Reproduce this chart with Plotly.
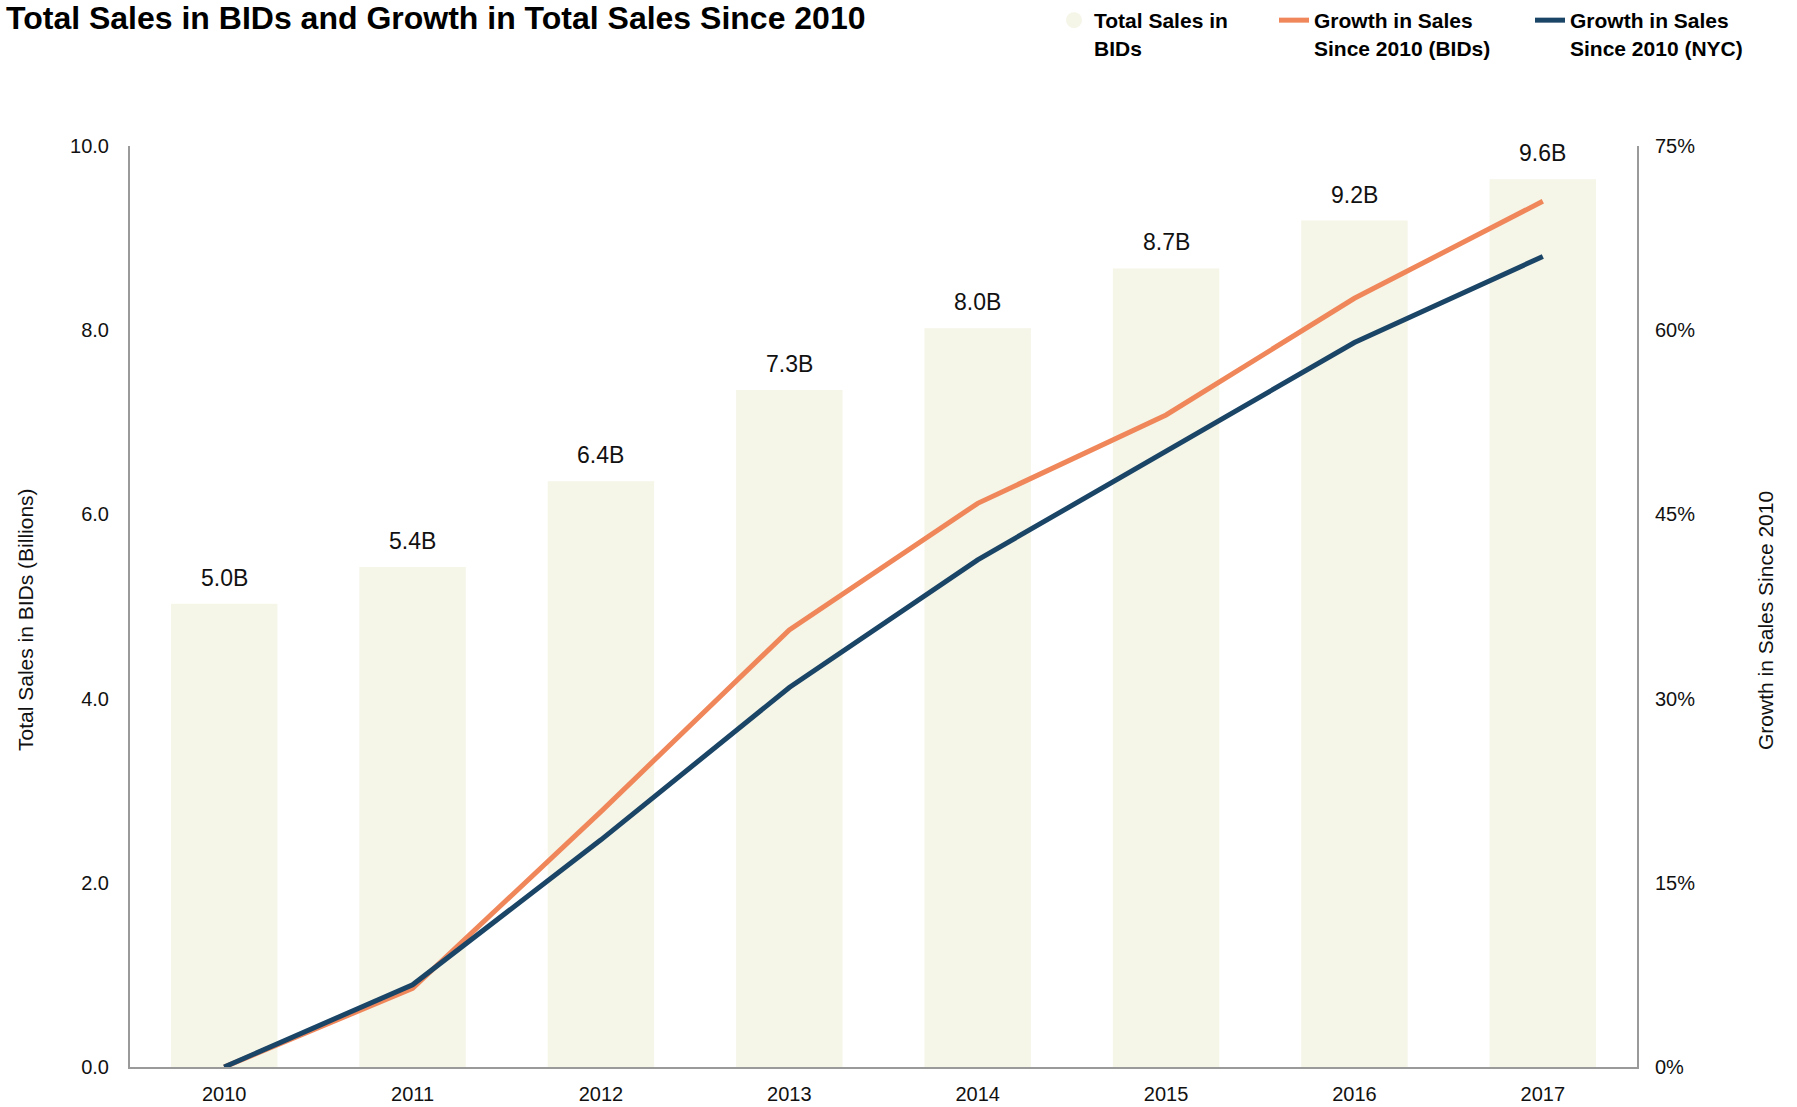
import plotly.graph_objects as go

years = ["2010", "2011", "2012", "2013", "2014", "2015", "2016", "2017"]
total_sales_bids = [5.03, 5.43, 6.36, 7.35, 8.02, 8.67, 9.19, 9.64]
sales_labels = ["5.0B", "5.4B", "6.4B", "7.3B", "8.0B", "8.7B", "9.2B", "9.6B"]
growth_bids = [0.0, 6.4, 20.8, 35.6, 45.9, 53.1, 62.6, 70.5]
growth_nyc = [0.0, 6.7, 18.5, 30.9, 41.3, 50.2, 59.0, 66.0]
left_ticks = [0, 2, 4, 6, 8, 10]
left_tick_labels = ["0.0", "2.0", "4.0", "6.0", "8.0", "10.0"]
right_ticks = [0, 15, 30, 45, 60, 75]
right_tick_labels = ["0%", "15%", "30%", "45%", "60%", "75%"]

FONT = "Liberation Sans"
BAR_C = "#f5f5e8"
ORANGE = "#f0875a"
NAVY = "#1b4566"
AXIS_C = "#9a9a9a"
W, H = 1797, 1107
ML, MR, MT, MB = 130, 160, 146, 40
PW, PH = W - ML - MR, H - MT - MB

fig = go.Figure()
fig.add_trace(go.Bar(x=years, y=total_sales_bids, marker=dict(color=BAR_C, line=dict(width=0)),
                     showlegend=False, name="Total Sales in BIDs", yaxis="y"))
# legend proxy for the bars (circle symbol as in the reference)
fig.add_trace(go.Scatter(x=[None], y=[None], mode="markers",
                         marker=dict(symbol="circle", size=16, color=BAR_C),
                         name="Total Sales in<br>BIDs", yaxis="y", legend="legend"))
fig.add_trace(go.Scatter(x=years, y=growth_bids, mode="lines", yaxis="y2",
                         line=dict(color=ORANGE, width=5), legend="legend2",
                         name="Growth in Sales<br>Since 2010 (BIDs)"))
fig.add_trace(go.Scatter(x=years, y=growth_nyc, mode="lines", yaxis="y2",
                         line=dict(color=NAVY, width=5), legend="legend3",
                         name="Growth in Sales<br>Since 2010 (NYC)"))

for i, (v, lab) in enumerate(zip(total_sales_bids, sales_labels)):
    fig.add_annotation(x=i, y=v, xref="x", yref="y", text=lab, showarrow=False,
                       yanchor="bottom", yshift=11,
                       font=dict(family=FONT, size=23, color="#111"))

# axis titles (placed as in the reference, slightly below plot centre)
fig.add_annotation(x=(25 - ML) / PW, y=(MT + PH - 620) / PH, xref="paper", yref="paper",
                   text="Total Sales in BIDs (Billions)", textangle=-90, showarrow=False,
                   xanchor="center", yanchor="middle",
                   font=dict(family=FONT, size=21, color="#111"))
fig.add_annotation(x=(1765 - ML) / PW, y=(MT + PH - 620) / PH, xref="paper", yref="paper",
                   text="Growth in Sales Since 2010", textangle=-90, showarrow=False,
                   xanchor="center", yanchor="middle",
                   font=dict(family=FONT, size=21, color="#111"))

def leg(text_left_px):
    return dict(orientation="h", x=(text_left_px - 40) / W, xanchor="left",
                y=1.0, yanchor="top", xref="container", yref="container",
                font=dict(family=FONT, size=21, color="#000", weight="bold"),
                valign="top", bgcolor="rgba(0,0,0,0)")

fig.update_layout(
    width=W, height=H,
    paper_bgcolor="white", plot_bgcolor="white",
    margin=dict(l=ML, r=MR, t=MT, b=MB, autoexpand=False),
    bargap=0.435,
    font=dict(family=FONT, color="#111"),
    title=dict(text="<b>Total Sales in BIDs and Growth in Total Sales Since 2010</b>",
               x=6 / W, xanchor="left", xref="container",
               y=1 - 18 / H, yanchor="middle", yref="container",
               font=dict(family=FONT, size=32, color="#000")),
    legend=leg(1094),
    legend2=leg(1314),
    legend3=leg(1570),
    xaxis=dict(type="category", range=[-0.5, 7.5], showline=True, linecolor=AXIS_C, linewidth=2,
               ticks="", showgrid=False, zeroline=False, automargin=False,
               tickfont=dict(family=FONT, size=20, color="#111"), ticklabelstandoff=8),
    yaxis=dict(range=[0, 10], tickmode="array", tickvals=left_ticks, ticktext=left_tick_labels,
               showline=True, linecolor=AXIS_C, linewidth=2, showgrid=False, zeroline=False,
               ticks="", automargin=False,
               tickfont=dict(family=FONT, size=20, color="#111"), ticklabelstandoff=15),
    yaxis2=dict(range=[0, 75], tickmode="array", tickvals=right_ticks, ticktext=right_tick_labels,
                overlaying="y", side="right", showline=True, linecolor=AXIS_C, linewidth=2,
                showgrid=False, zeroline=False, ticks="", automargin=False,
                tickfont=dict(family=FONT, size=20, color="#111"), ticklabelstandoff=12),
)

fig.write_html("out.html", config={"displayModeBar": False},
               post_script="document.body.style.margin='0';")
